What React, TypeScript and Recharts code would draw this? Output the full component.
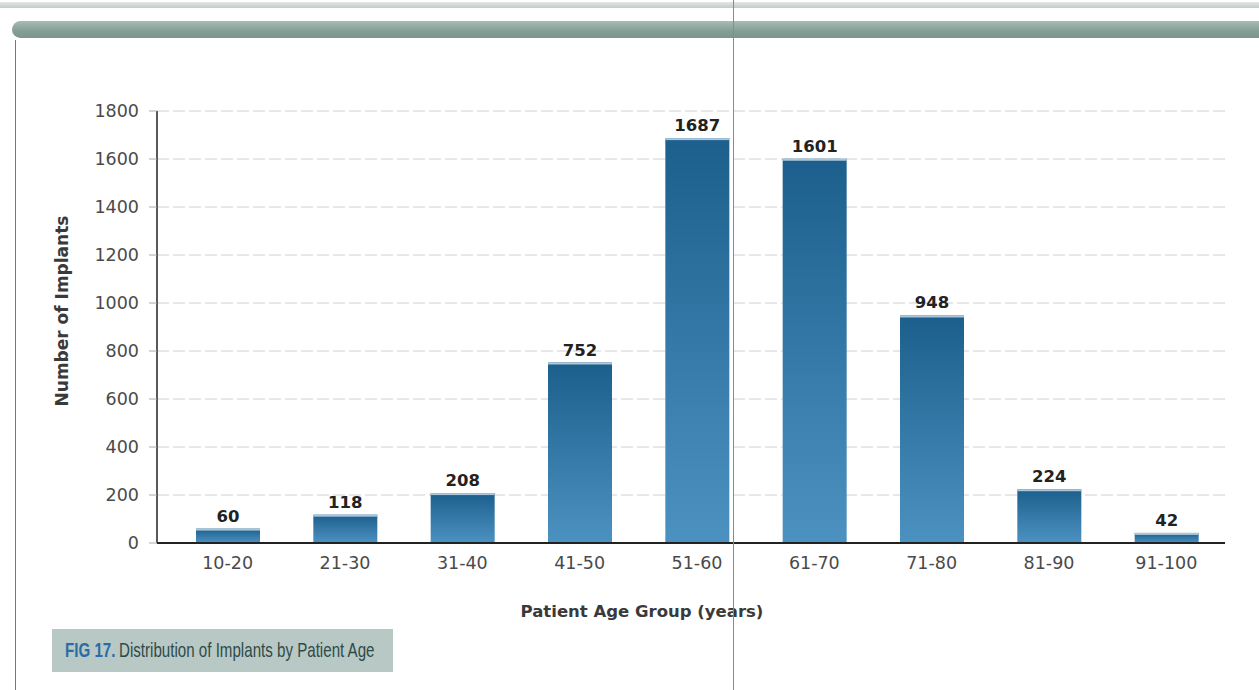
import React from 'react';
import { BarChart, Bar, XAxis, YAxis, CartesianGrid, LabelList, Label } from 'recharts';

const ageGroups = ['10-20', '21-30', '31-40', '41-50', '51-60', '61-70', '71-80', '81-90', '91-100'];
const implantCounts = [60, 118, 208, 752, 1687, 1601, 948, 224, 42];
const yTicks = [0, 200, 400, 600, 800, 1000, 1200, 1400, 1600, 1800];

const data = ageGroups.map((name, i) => ({ name, value: implantCounts[i] }));

const FONT = "'DejaVu Sans', sans-serif";

// bar with a thin light edge on top, like the printed figure
const BarShape = (props: any) => {
  const { x, y, width, height } = props;
  if (!height || height <= 0) return null;
  return (
    <g>
      <rect x={x} y={y} width={width} height={height} fill="url(#barFill)" />
      <rect x={x} y={y} width={width} height={2} fill="#a9c6da" />
    </g>
  );
};

export default function App() {
  return (
    <div style={{ position: 'absolute', left: 0, top: 0, width: 1259, height: 690, background: '#fff', overflow: 'hidden' }}>
      {/* scanned header band */}
      <div style={{ position: 'absolute', left: 0, top: 2, width: 1259, height: 6, background: 'linear-gradient(#e2e7e5, #c3ccc9)' }} />
      <div
        style={{
          position: 'absolute',
          left: 12,
          top: 21,
          width: 1247,
          height: 17,
          borderRadius: '9px 0 0 9px',
          background: 'linear-gradient(#a9bbb5, #86a097 55%, #7a958c)',
        }}
      />
      <div style={{ position: 'absolute', left: 15, top: 40, width: 1, height: 650, background: '#777' }} />
      <div style={{ position: 'absolute', left: 733, top: 0, width: 1, height: 690, background: '#8a8a8a', zIndex: 2 }} />

      <div style={{ position: 'absolute', left: 0, top: 0 }}>
        <BarChart
          width={1259}
          height={690}
          data={data}
          margin={{ top: 111, right: 34, bottom: 107, left: 57 }}
        >
          <defs>
            <linearGradient id="barFill" x1="0" y1="0" x2="0" y2="1">
              <stop offset="0%" stopColor="#1c5f8d" />
              <stop offset="100%" stopColor="#4c92c1" />
            </linearGradient>
          </defs>
          <CartesianGrid vertical={false} stroke="#cfcfcf" strokeDasharray="12 4" />
          <XAxis
            dataKey="name"
            padding={{ left: 12, right: 0 }}
            height={40}
            axisLine={{ stroke: '#222', strokeWidth: 2 }}
            tickLine={false}
            tickSize={6}
            tickMargin={8}
            tick={{ fill: '#4a4a4a', fontSize: 17.5, fontFamily: FONT }}
            interval={0}
          >
            <Label
              value="Patient Age Group (years)"
              position="bottom"
              offset={22}
              dx={-49}
              style={{ fill: '#3a3a3a', fontSize: 16.5, fontWeight: 700, fontFamily: FONT }}
            />
          </XAxis>
          <YAxis
            width={100}
            domain={[0, 1800]}
            ticks={yTicks}
            interval={0}
            axisLine={{ stroke: '#222', strokeWidth: 1.5 }}
            tickLine={{ stroke: '#aaa' }}
            tickSize={8}
            tickMargin={10}
            tick={{ fill: '#4a4a4a', fontSize: 17.5, fontFamily: FONT }}
          >
            <Label
              value="Number of Implants"
              angle={-90}
              position="center"
              dx={-45}
              dy={-16}
              style={{ fill: '#3a3a3a', fontSize: 17, fontWeight: 700, fontFamily: FONT, textAnchor: 'middle' }}
            />
          </YAxis>
          <Bar dataKey="value" barSize={64} shape={<BarShape />} isAnimationActive={false}>
            <LabelList
              dataKey="value"
              position="top"
              offset={7}
              style={{ fill: '#222', fontSize: 16.5, fontWeight: 700, fontFamily: FONT }}
            />
          </Bar>
        </BarChart>
      </div>

      {/* figure caption */}
      <div
        style={{
          position: 'absolute',
          left: 52,
          top: 629,
          width: 341,
          height: 43,
          background: '#b8c8c4',
          paddingLeft: 13,
          boxSizing: 'border-box',
          overflow: 'hidden',
        }}
      >
        <div
          style={{
            display: 'inline-block',
            transform: 'scaleX(0.72)',
            transformOrigin: 'left center',
            marginTop: 8,
            fontFamily: "'Liberation Sans', sans-serif",
            fontSize: 21,
            lineHeight: '26px',
            color: '#2f4b49',
            whiteSpace: 'nowrap',
          }}
        >
          <span style={{ color: '#2a6ca6', fontWeight: 700, marginRight: 5 }}>FIG 17.</span>
          <span>Distribution of Implants by Patient Age</span>
        </div>
      </div>
    </div>
  );
}
